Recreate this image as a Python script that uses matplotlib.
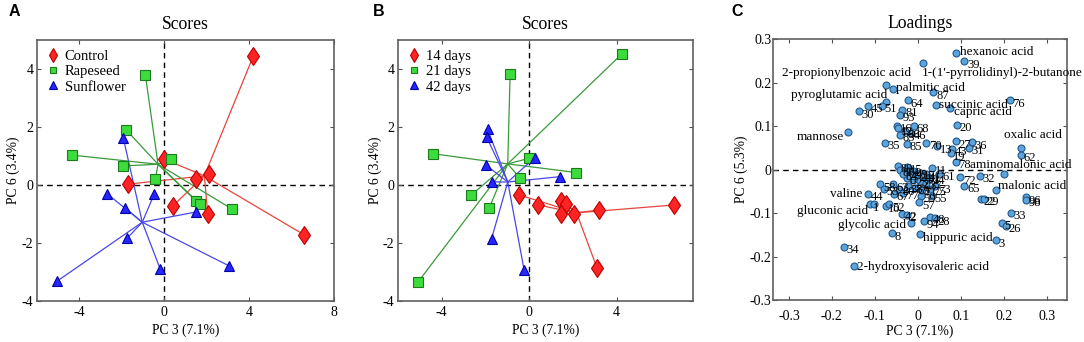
import numpy as np
import matplotlib
matplotlib.use('Agg')
import matplotlib.pyplot as plt

plt.rcParams.update({
    'font.family': 'Liberation Serif',
    'font.size': 9.5,
    'axes.unicode_minus': False,
    'xtick.direction': 'in',
    'ytick.direction': 'in',
    'xtick.top': True,
    'ytick.right': True,
    'xtick.major.size': 3,
    'ytick.major.size': 3,
    'xtick.color': '#505050',
    'ytick.color': '#505050',
    'xtick.labelcolor': 'black',
    'ytick.labelcolor': 'black',
    'axes.edgecolor': '#606060',
    'axes.linewidth': 1.2,
})

# ── Panel A: scores by diet ──
diet_names = ['Control', 'Rapeseed', 'Sunflower']
diet_x = [
    [4.2, -0.03, 2.1, 1.5, -1.7, 0.4, 2.05, 6.6],
    [-0.89, -1.79, -4.33, -1.93, 0.33, -0.42, 1.5, 1.69, 3.2],
    [-1.93, -2.68, -0.47, -1.84, 1.5, -1.74, -0.19, 3.06, -5.04],
]
diet_y = [
    [4.45, 0.9, 0.38, 0.2, 0.03, -0.72, -1.0, -1.72],
    [3.79, 1.9, 1.03, 0.66, 0.9, 0.2, -0.55, -0.66, -0.83],
    [1.62, -0.31, -0.31, -0.79, -0.93, -1.83, -2.9, -2.79, -3.31],
]

# ── Panel B: scores by age ──
age_names = ['14 days', '21 days', '42 days']
age_x = [
    [-0.45, 0.41, 1.46, 1.67, 1.47, 2.07, 3.19, 3.1, 6.62],
    [-0.87, -4.4, 0.0, -0.41, 2.16, -2.64, -1.82, -5.07, 4.23],
    [-1.9, -1.95, -1.98, -1.72, 0.25, 1.43, -1.72, -0.23],
]
age_y = [
    [-0.34, -0.69, -0.55, -0.67, -0.99, -0.99, -0.86, -2.85, -0.69],
    [3.84, 1.08, 0.92, 0.23, 0.43, -0.34, -0.78, -3.33, 4.51],
    [1.92, 1.66, 0.69, 0.11, 0.94, 0.29, -1.85, -2.93],
]

# ── Panel C: loadings ──
load_lab = [
    'hexanoic acid', '39', "1-(1'-pyrrolidinyl)-2-butanone", '2-propionylbenzoic acid',
    'palmitic acid', '87', '64', 'pyroglutamic acid', '51', '45', '30',
    'succinic acid', 'capric acid', '76', '81', '93', 'mannose', '16', '12', '68',
    '20', '83', '46', '86', '35', '85', '70', '13', '43', '27', '36', '31', '19',
    'oxalic acid', '62', '78',
    '89', '11', '61', '72', '32', 'aminomalonic acid', '65', 'malonic acid',
    '22', '29', '96', '98', '33', '5', '26', '3', 'hippuric acid', '48', '28',
    '94', 'glycolic acid', '8', '34', '2-hydroxyisovaleric acid', 'valine',
    '1', 'gluconic acid', '10', '52', '42', '2',
    '58', '53', '63', '67', '80', '59', '55', '57', '73',
    '88', '15', '4', '49', '24', '17', '41', '14', '6', '23', '25', '37', '38',
    '69', '71', '75', '77', '82', '84',
]
load_x = [
    0.088, 0.108, 0.012, -0.073,
    -0.057, 0.036, -0.024, -0.075, -0.084, -0.117, -0.137,
    0.042, 0.074, 0.214, -0.036, -0.042, -0.163, -0.048, -0.046, -0.009,
    0.090, -0.042, -0.016, -0.030, -0.077, -0.025, 0.020, 0.045, 0.080, 0.088, 0.125, 0.119, 0.076,
    0.241, 0.239, 0.088,
    -0.047, 0.033, 0.050, 0.098, 0.144, 0.200, 0.108, 0.181,
    0.146, 0.154, 0.251, 0.251, 0.216, 0.195, 0.205, 0.181, 0.006, 0.028, 0.040,
    0.014, -0.017, -0.061, -0.172, -0.149, -0.117,
    -0.112, -0.102, -0.075, -0.067, -0.036, -0.026,
    -0.087, -0.079, -0.057, -0.055, -0.043, 0.007, 0.032, 0.003, 0.040,
    -0.042, -0.025, -0.019, -0.011, -0.003, 0.005, 0.020, 0.028, -0.026, -0.011, 0.005, 0.020, -0.023,
    -0.007, 0.009, 0.028, -0.034, 0.015, -0.035,
]
load_y = [
    0.268, 0.249, 0.245, 0.195,
    0.186, 0.178, 0.159, 0.156, 0.147, 0.147, 0.134,
    0.149, 0.142, 0.159, 0.138, 0.126, 0.087, 0.101, 0.095, 0.101,
    0.103, 0.080, 0.084, 0.088, 0.061, 0.059, 0.061, 0.054, 0.048, 0.065, 0.063, 0.050, 0.037,
    0.050, 0.034, 0.018,
    0.009, 0.004, -0.010, -0.018, -0.014, -0.011, -0.037, -0.048,
    -0.067, -0.067, -0.064, -0.069, -0.100, -0.123, -0.129, -0.163, -0.149, -0.109, -0.112,
    -0.119, -0.124, -0.147, -0.178, -0.222, -0.056,
    -0.080, -0.080, -0.083, -0.080, -0.102, -0.104,
    -0.034, -0.044, -0.034, -0.056, -0.044, -0.060, -0.060, -0.075, -0.038,
    0.000, 0.006, 0.000, -0.004, -0.011, -0.008, -0.011, -0.019, -0.019, -0.023, -0.027, -0.031, -0.038,
    -0.042, -0.046, -0.044, -0.054, -0.015, -0.010,
]

# label placement for named metabolites: (dx, dy in points, ha)
name_pos = {
    'hexanoic acid': (3, 0.5, 'left'),
    "1-(1'-pyrrolidinyl)-2-butanone": (-1, -7, 'left'),
    '2-propionylbenzoic acid': (18, 8.5, 'right'),
    'palmitic acid': (2, 0.5, 'left'),
    'pyroglutamic acid': (1, 5, 'right'),
    'succinic acid': (2.5, 0, 'left'),
    'capric acid': (3, -3, 'left'),
    'mannose': (-3, -4, 'right'),
    'oxalic acid': (8, 9, 'center'),
    'aminomalonic acid': (12.5, 6.5, 'center'),
    'malonic acid': (2, 3.5, 'left'),
    'valine': (-4, 0, 'right'),
    'gluconic acid': (-4, -5, 'right'),
    'glycolic acid': (-3, -1, 'right'),
    'hippuric acid': (2, -3, 'left'),
    '2-hydroxyisovaleric acid': (2, -1, 'left'),
}
extra_tag = {'valine': '44'}

styles = [
    dict(marker='d', ms=9.5, fc='#ff2424', ec='#b80000', line='#e8453c'),
    dict(marker='s', ms=6.8, fc='#3ddc3d', ec='#1b7a1b', line='#3a9a3a'),
    dict(marker='^', ms=7.4, fc='#2626ff', ec='#0000a8', line='#4848e6'),
]


def draw_scores(ax, names, xs, ys, xlim, xticks):
    for name, gx, gy, st in zip(names, xs, ys, styles):
        gx, gy = np.asarray(gx), np.asarray(gy)
        cx, cy = gx.mean(), gy.mean()
        for px, py in zip(gx, gy):
            ax.plot([cx, px], [cy, py], color=st['line'], lw=0.9, zorder=2)
        ax.plot(gx, gy, ls='none', marker=st['marker'], ms=st['ms'],
                mfc=st['fc'], mec=st['ec'], mew=0.8, label=name, zorder=3)
    ax.axhline(0, color='black', lw=1, ls=(0, (4, 3)), zorder=1)
    ax.axvline(0, color='black', lw=1, ls=(0, (4, 3)), zorder=1)
    ax.set_xlim(*xlim)
    ax.set_ylim(-4, 5)
    ax.set_xticks(xticks)
    ax.set_yticks([-4, -2, 0, 2, 4])
    ax.tick_params(axis='x', pad=3.5, labelsize=10)
    ax.tick_params(axis='y', pad=2.5, labelsize=10)
    ax.set_xlabel('PC 3 (7.1%)', fontsize=9.8, labelpad=3)
    ax.set_ylabel('PC 6 (3.4%)', fontsize=9.8, labelpad=1)
    ax.set_title('Scores', fontsize=12.7, pad=8)
    ax.legend(loc='upper left', frameon=False, fontsize=10.5, markerscale=0.7,
              handlelength=0.9, handletextpad=0.35, labelspacing=0.15,
              borderaxespad=0.3, borderpad=0.35)


fig = plt.figure(figsize=(10.84, 3.42), dpi=100)
axA = fig.add_axes([0.0341, 0.1199, 0.274, 0.763])
axB = fig.add_axes([0.3672, 0.1199, 0.2721, 0.763])
axC = fig.add_axes([0.7131, 0.1228, 0.2712, 0.763])

draw_scores(axA, diet_names, diet_x, diet_y, (-6, 8), [-4, 0, 4, 8])
draw_scores(axB, age_names, age_x, age_y, (-6, 7.5), [-4, 0, 4])

# loadings
axC.axhline(0, color='black', lw=1, ls=(0, (4, 3)), zorder=1)
axC.plot(load_x, load_y, ls='none', marker='o', ms=5, mfc='#5ca4dc',
         mec='#24588c', mew=0.8, zorder=3)
for lab, x, y in zip(load_lab, load_x, load_y):
    dx, dy, ha = name_pos.get(lab, (2, -2.5, 'left'))
    axC.annotate(lab, (x, y), xytext=(dx, dy), textcoords='offset points',
                 ha=ha, va='center', fontsize=9.5 if lab in name_pos else 9, zorder=4)
    if lab in extra_tag:
        axC.annotate(extra_tag[lab], (x, y), xytext=(2, -2.5), textcoords='offset points',
                     ha='left', va='center', fontsize=9, zorder=4)
tick_vals = [-0.3, -0.2, -0.1, 0, 0.1, 0.2, 0.3]
tick_text = ['-0.3', '-0.2', '-0.1', '0', '0.1', '0.2', '0.3']
axC.set_xlim(-0.337, 0.347)
axC.set_ylim(-0.3, 0.3)
axC.set_xticks(tick_vals, tick_text)
axC.set_yticks(tick_vals, tick_text)
axC.tick_params(axis='x', pad=7, labelsize=10)
axC.tick_params(axis='y', pad=1, labelsize=10)
axC.set_xlabel('PC 3 (7.1%)', fontsize=9.8, labelpad=1)
axC.set_ylabel('PC 6 (5.3%)', fontsize=9.8, labelpad=1)
axC.set_title('Loadings', fontsize=12.7, pad=8)

for letter, xpos in [('A', 0.008), ('B', 0.344), ('C', 0.675)]:
    fig.text(xpos, 0.988, letter, fontfamily='Liberation Sans', fontweight='bold',
             fontsize=11.5, va='top', ha='left')

fig.savefig('out.png', dpi=100)
plt.close()
